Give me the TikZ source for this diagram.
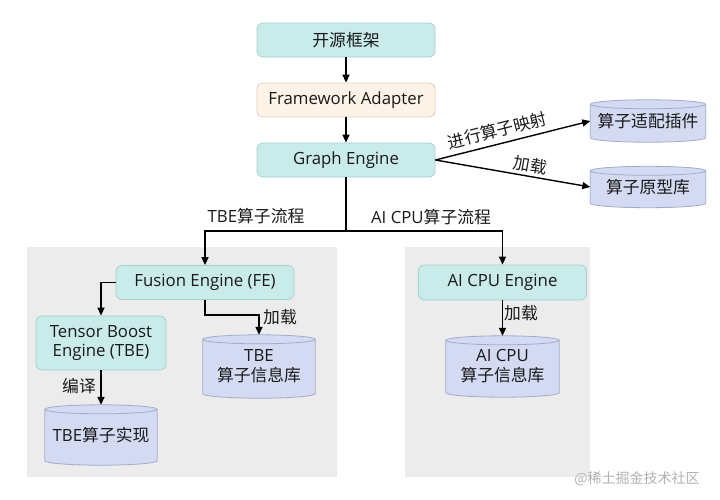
\documentclass[tikz,border=0pt]{standalone}
\usepackage{fontspec}
\setmainfont{Open Sans}
\newfontfamily\cjk{Noto Sans CJK SC}
\usetikzlibrary{arrows.meta,backgrounds,calc}
\definecolor{tealfill}{HTML}{C9EBEA}
\definecolor{tealline}{HTML}{A6D0CF}
\definecolor{adfill}{HTML}{FDF3E8}
\definecolor{adline}{HTML}{E6D0BA}
\definecolor{cylfill}{HTML}{D3DAF2}
\definecolor{cylline}{HTML}{A3ABCB}
\definecolor{panel}{HTML}{ECECEC}
\definecolor{txt}{HTML}{1A1A1A}
\newcommand{\fs}{\fontsize{16.8}{20}\selectfont}
\tikzset{
  x=1pt, y=-1pt,
  box/.style={draw=tealline, fill=tealfill, rounded corners=6pt, line width=0.8pt,
    inner sep=0pt, font=\fs, text=txt, align=center},
  adbox/.style={box, draw=adline, fill=adfill},
  dbnode/.style={inner sep=0pt, font=\fs, text=txt, align=center},
  cylbody/.style={fill=cylfill, draw=cylline, line width=0.8pt},
  arr/.style={draw=black, line width=1.4pt, -{Triangle[length=8pt,width=7pt]}},
  lbl/.style={font=\fs, text=txt, inner sep=1pt},
  panelbox/.style={fill=panel, draw=none}
}
\newcommand{\drawcyl}[1]{%
  \path[cylbody] let \p1=(#1.north west), \p2=(#1.north east), \n1={(\x2-\x1)/2} in
    ([yshift=-4.5pt]#1.north west) -- ([yshift=4.5pt]#1.south west)
    arc[start angle=180, end angle=360, x radius=\n1, y radius=4.5pt]
    -- ([yshift=-4.5pt]#1.north east)
    arc[start angle=0, end angle=180, x radius=\n1, y radius=4.5pt] -- cycle;
  \draw[cylline, line width=0.8pt] let \p1=(#1.north west), \p2=(#1.north east), \n1={(\x2-\x1)/2} in
    ([yshift=-4.5pt]#1.north west)
    arc[start angle=180, end angle=360, x radius=\n1, y radius=4.5pt];
}
\begin{document}
\begin{tikzpicture}
\useasboundingbox (0,0) rectangle (720,499);
\begin{pgfonlayer}{background}
  \fill[white] (0,0) rectangle (720,499);
  \fill[panelbox] (27,247) rectangle (337,477);
  \fill[panelbox] (405,247) rectangle (590,477);
\end{pgfonlayer}

% top chain
\node[box, minimum width=178pt, minimum height=34pt] (fw) at (346,40) {{\cjk 开源框架}};
\node[adbox, minimum width=178pt, minimum height=34pt] (fa) at (346,100) {Framework Adapter};
\node[box, minimum width=178pt, minimum height=34pt] (ge) at (346,160) {Graph Engine};

% right databases
\node[dbnode, minimum width=115pt, minimum height=42pt] (plug) at (648,121) {{\cjk 算子适配插件}};
\node[dbnode, minimum width=115pt, minimum height=41pt] (proto) at (648,187) {{\cjk 算子原型库}};

% engines
\node[box, minimum width=178pt, minimum height=34pt] (fe) at (205,282.5) {Fusion Engine (FE)};
\node[box, minimum width=130pt, minimum height=54pt] (tbe) at (101,343) {Tensor Boost\\[-1pt]Engine (TBE)};
\node[box, minimum width=168pt, minimum height=35pt] (ai) at (502.5,282.5) {AI CPU Engine};

\node[dbnode, minimum width=112pt, minimum height=63pt] (tbeinfo) at (259,366.5) {TBE\\{\cjk 算子信息库}};
\node[dbnode, minimum width=112pt, minimum height=60pt] (tbeimpl) at (101,435) {TBE{\cjk 算子实现}};
\node[dbnode, minimum width=113pt, minimum height=61pt] (aiinfo) at (502.5,366.5) {AI CPU\\{\cjk 算子信息库}};

\begin{pgfonlayer}{background}
  \drawcyl{plug}
  \drawcyl{proto}
  \drawcyl{tbeinfo}
  \drawcyl{tbeimpl}
  \drawcyl{aiinfo}
\end{pgfonlayer}

% connectors
\draw[arr] (fw) -- (fa);
\draw[arr] (fa) -- (ge);
\draw[arr] (ge.east) -- node[lbl, sloped, above, pos=0.42, yshift=4pt] {\cjk 进行算子映射} (plug.west);
\draw[arr] (ge.east) -- node[lbl, sloped, above, pos=0.6, yshift=2pt] {\cjk 加载} (proto.west);

\coordinate (j) at (346,231);
\draw[arr] (ge.south) -- (j) -| (fe.north);
\draw[arr] (j) -| (ai.north);
\node[lbl] (l1) at (256,216) {TBE{\cjk 算子流程}};
\node[lbl] (l2) at (431,217) {AI CPU{\cjk 算子流程}};

\draw[arr] (fe.west) -| (tbe.north);
\coordinate (k) at (205,315);
\draw[arr] (fe.south) -- (k) -| (tbeinfo.north);
\node[lbl] (l3) at (280,317) {\cjk 加载};

\draw[arr] (tbe.south) -- (tbeimpl.north);
\node[lbl] (l4) at (79,386) {\cjk 编译};

\draw[arr] (ai.south) -- (aiinfo.north);
\node[lbl] (l5) at (521,313) {\cjk 加载};

\node[font=\fontsize{14}{16}\selectfont\cjk, text=black!30] (wm) at (637,479) {@稀土掘金技术社区};
\end{tikzpicture}
\end{document}
